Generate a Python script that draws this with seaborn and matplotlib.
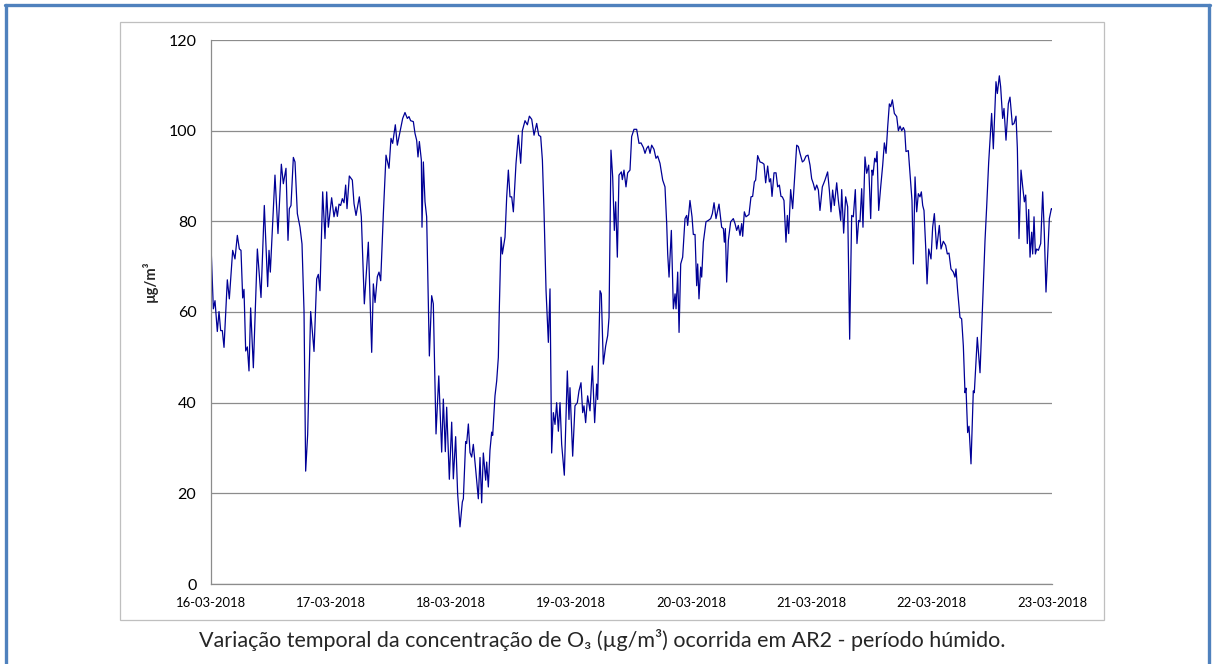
import numpy as np
import pandas as pd
import matplotlib
matplotlib.use("Agg")
import matplotlib.pyplot as plt
import seaborn as sns
from matplotlib.lines import Line2D
from matplotlib.patches import Rectangle

# ---- data (hours since 16-03-2018 00:00, O3 concentration in ug/m3) ----
hours = [
    0, 0.47, 0.8, 1.26, 1.6, 1.93, 2.26, 2.6, 3.26, 3.66, 4.33, 4.79, 5.26, 5.66, 5.99,
    6.33, 6.59, 6.93, 7.26, 7.59, 7.92, 8.46, 9.26, 9.99, 10.65, 11.32, 11.59, 11.85,
    12.78, 13.38, 14.05, 14.45, 14.98, 15.38, 15.65, 15.98, 16.45, 16.78, 17.25, 17.78,
    18.18, 18.58, 18.91, 19.31, 19.91, 20.58, 21.11, 21.44, 21.77, 22.31, 22.77, 23.11,
    23.44, 24.1, 24.57, 24.97, 25.24, 25.57, 25.9, 26.23, 26.57, 26.9, 27.17, 27.63,
    28.23, 28.57, 28.97, 29.63, 30.03, 30.63, 31.43, 32.1, 32.43, 32.77, 33.23, 33.56,
    33.9, 34.43, 34.96, 35.56, 35.96, 36.29, 36.82, 37.22, 37.76, 38.29, 38.75, 39.22,
    39.55, 39.88, 40.42, 40.75, 41.08, 41.35, 41.62, 42.02, 42.15, 42.42, 42.75, 43.08,
    43.62, 44.08, 44.41, 44.95, 45.5, 46.08, 46.41, 46.81, 47.08, 47.61, 48.08, 48.41,
    48.87, 49.27, 49.74, 50.21, 50.41, 50.87, 51.07, 51.41, 51.74, 52.07, 52.4, 52.87,
    53.4, 53.74, 54.07, 54.4, 54.87, 55.07, 55.4, 55.73, 56.07, 56.27, 56.73, 57.07,
    57.4, 57.6, 57.94, 58.2, 58.73, 59.07, 59.4, 59.73, 60.07, 60.4, 60.93, 61.4, 61.86,
    62.2, 62.73, 63.2, 63.6, 64.07, 64.53, 65.06, 65.46, 65.86, 66.2, 66.52, 66.93,
    67.39, 67.72, 68.05, 68.39, 68.72, 69.05, 69.39, 69.72, 70.05, 70.58, 71.18, 71.51,
    71.71, 72.25, 72.71, 73.18, 73.51, 73.91, 74.25, 74.51, 74.84, 75.24, 75.71, 76.18,
    76.64, 77.04, 77.24, 77.71, 77.97, 78.37, 78.84, 79.24, 79.51, 79.9, 80.24, 80.57,
    80.84, 81.17, 81.5, 81.97, 82.17, 82.5, 82.9, 83.23, 83.7, 84.03, 84.5, 85.03, 85.5,
    85.9, 86.36, 86.7, 87.03, 87.37, 87.7, 88.03, 88.49, 88.89, 89.23, 89.69, 90.23,
    90.69, 91.03, 91.23, 91.5, 91.96, 92.36, 92.7, 92.9, 93.23, 93.5, 93.83, 94.22,
    94.69, 95.02, 95.22, 95.68, 96.09, 96.35, 96.69, 97.02, 97.22, 97.48, 97.82, 98.02,
    98.35, 98.88, 99.35, 99.82, 100.15, 100.49, 100.88, 101.48, 102.01, 102.35, 102.55,
    102.75, 103.01, 103.35, 103.81, 104.34, 104.68, 105.01, 105.34, 105.68, 106.01,
    106.21, 106.54, 106.87, 107.47, 107.87, 108.2, 108.54, 108.8, 109.2, 109.67, 110.14,
    110.47, 110.8, 111.2, 111.54, 111.8, 112.07, 112.47, 112.87, 113.2, 113.54, 113.86,
    114.13, 114.46, 114.86, 115.13, 115.4, 115.79, 116.19, 116.66, 117.0, 117.33, 117.66,
    118.13, 118.46, 118.86, 119.26, 119.66, 119.99, 120.33, 120.66, 121.0, 121.33,
    121.65, 122.12, 122.65, 123.18, 123.52, 123.85, 124.18, 124.52, 124.99, 125.32,
    125.79, 125.99, 126.38, 126.78, 127.18, 127.58, 127.98, 128.31, 128.71, 129.04,
    129.38, 129.64, 129.98, 130.24, 130.64, 130.98, 131.38, 131.78, 132.05, 132.25,
    132.58, 132.85, 133.05, 133.38, 133.78, 134.18, 134.51, 134.85, 135.18, 135.51,
    135.78, 136.11, 136.51, 136.98, 137.31, 137.64, 137.98, 138.31, 138.58, 138.83,
    139.3, 139.77, 140.03, 140.3, 140.64, 140.97, 141.3, 141.63, 141.9, 142.17, 142.43,
    142.77, 143.04, 143.37, 143.83, 144.16, 144.5, 144.96, 145.49, 145.83, 146.29,
    146.76, 147.09, 147.42, 147.82, 148.29, 148.62, 148.82, 149.15, 149.62, 149.95,
    150.29, 150.62, 150.82, 151.15, 151.42, 151.82, 152.28, 152.48, 153.08, 153.62,
    154.08, 154.62, 154.95, 155.35, 155.94, 156.28, 156.81, 157.08, 157.48, 157.74,
    158.14, 158.41, 158.81, 159.28, 159.61, 160.08, 160.42, 160.81, 161.08, 161.41,
    161.81, 162.15, 162.48, 162.75, 163.07, 163.34, 163.61, 163.94, 164.14, 164.41,
    164.68, 164.94, 165.28, 165.74, 166.14, 166.47, 166.8, 167.14, 167.47, 167.87, 168.0,
]
o3 = [
    74.7, 60.7, 62.5, 55.7, 60.1, 55.9, 55.9, 52.2, 67.1, 62.9, 73.6, 71.7, 76.9, 73.9, 73.6,
    63.1, 65.0, 51.4, 52.3, 47.0, 60.9, 47.7, 73.9, 63.2, 83.5, 65.6, 73.6, 68.8,
    90.2, 77.3, 92.6, 88.3, 91.7, 75.8, 82.8, 83.5, 94.1, 93.1, 81.7, 78.7,
    75.0, 60.3, 24.9, 33.0, 60.1, 51.3, 67.3, 68.3, 64.7, 86.5, 76.2, 86.5,
    78.7, 85.2, 81.0, 83.2, 81.1, 83.8, 83.5, 85.0, 84.1, 88.0, 82.8, 90.0,
    89.1, 83.9, 81.3, 85.4, 81.0, 61.8, 75.4, 51.1, 66.2, 62.1, 67.8, 68.8,
    66.9, 81.7, 94.6, 91.7, 98.3, 97.2, 101.3, 96.8, 99.8, 102.7, 104.0, 102.7,
    103.1, 102.2, 102.0, 99.4, 97.9, 94.2, 97.6, 93.5, 78.7, 93.1, 84.3, 81.0,
    50.3, 63.6, 61.8, 33.1, 45.9, 29.1, 40.8, 29.2, 39.0, 23.1, 35.7, 23.2,
    32.5, 19.9, 12.6, 18.1, 18.8, 31.4, 31.0, 35.3, 29.0, 28.0, 30.8, 25.3,
    18.8, 27.9, 17.9, 28.9, 22.9, 26.9, 21.4, 29.5, 33.5, 32.8, 41.5, 44.8,
    50.0, 61.0, 76.5, 72.8, 76.5, 85.4, 91.3, 85.4, 85.4, 82.1, 92.8, 99.0, 92.8,
    100.0, 102.2, 101.3, 103.2, 102.5, 99.0, 101.6, 99.0, 98.7, 93.5, 82.4, 64.7,
    53.3, 65.1, 28.9, 37.8, 35.2, 40.0, 33.7, 40.0, 30.8, 24.0, 47.0, 36.3,
    43.3, 28.2, 39.3, 40.0, 42.6, 44.4, 37.8, 39.3, 35.6, 41.5, 38.2, 48.1,
    35.6, 44.1, 40.7, 64.7, 64.0, 48.5, 52.5, 54.8, 58.8, 95.7, 89.8, 78.0,
    84.3, 72.1, 90.2, 90.9, 89.2, 91.3, 87.6, 90.7, 91.3, 98.7, 100.3, 100.3, 97.2,
    97.3, 96.3, 95.0, 96.1, 96.6, 95.0, 96.8, 95.9, 93.9, 94.4, 92.8, 89.1,
    87.6, 79.5, 72.8, 67.7, 78.0, 60.7, 64.0, 60.7, 68.8, 55.5, 70.6, 72.1,
    80.6, 81.3, 79.1, 84.6, 81.0, 77.1, 77.1, 65.8, 70.6, 62.9, 69.9, 67.7,
    75.4, 79.9, 80.2, 80.6, 81.7, 84.1, 80.6, 83.8, 78.7, 78.4, 75.4,
    78.4, 66.6, 75.8, 79.9, 80.6, 79.5, 78.0, 79.1, 76.9, 79.5,
    76.7, 82.1, 81.0, 81.5, 85.4, 85.5, 88.7, 89.1, 94.5, 93.1, 92.9,
    92.6, 88.5, 92.2, 88.7, 89.4, 85.5, 90.7, 90.7, 87.6, 88.0, 85.5,
    85.4, 84.6, 75.4, 81.3, 77.3, 87.0, 82.8, 90.9, 96.8, 96.5, 95.0,
    93.1, 93.4, 94.4, 94.6, 92.4, 89.4, 88.3, 86.9, 88.0, 86.9,
    82.4, 87.6, 89.1, 90.9, 86.9, 82.1, 86.9, 83.5, 88.5, 84.6,
    80.2, 87.0, 77.4, 85.4, 83.2, 54.0, 81.3, 81.0, 87.0, 75.1,
    80.2, 79.9, 87.2, 78.7, 94.2, 90.6, 92.4, 80.6, 91.3, 90.2,
    93.9, 93.1, 95.4, 82.4, 87.6, 92.4, 97.3, 95.0, 100.9, 105.9,
    105.3, 106.8, 103.8, 103.1, 100.0, 101.0, 100.0, 100.7, 100.0, 95.4,
    95.6, 88.3, 84.6, 70.6, 89.8, 82.1, 86.1, 85.4, 86.5, 83.5, 82.4,
    74.3, 66.2, 73.9, 71.7, 78.7, 81.7, 73.9, 79.1, 73.9, 75.6,
    74.7, 72.8, 73.0, 69.5, 68.8, 67.7, 69.5, 64.7, 58.8, 58.5,
    52.5, 42.2, 43.2, 33.4, 34.8, 26.5, 42.6, 42.2, 54.4, 46.6,
    59.9, 75.8, 83.2, 93.0, 103.8, 96.0, 110.8, 108.2, 112.1, 109.7,
    102.7, 104.9, 97.9, 106.0, 107.4, 101.3, 101.6, 103.2, 96.1, 76.2,
    91.3, 87.6, 84.3, 85.8, 75.1, 82.6, 72.1, 77.6, 72.8, 81.0,
    72.8, 73.9, 73.6, 75.1, 86.5, 77.3, 64.4, 72.8, 80.6, 82.8, 82.6,
]
day_labels = ["16-03-2018", "17-03-2018", "18-03-2018", "19-03-2018",
              "20-03-2018", "21-03-2018", "22-03-2018", "23-03-2018"]
y_ticks = [0, 20, 40, 60, 80, 100, 120]
y_label = "µg/m³"
caption = "Variação temporal da concentração de O₃ (µg/m³) ocorrida em AR2 - período húmido."

start = pd.Timestamp("2018-03-16")
df = pd.DataFrame({"time": start + pd.to_timedelta(hours, unit="h"), "o3": o3})

sns.set_theme(style="white")
plt.rcParams["font.family"] = ["Lato", "DejaVu Sans"]

W, H = 1215, 664
fig = plt.figure(figsize=(W / 100, H / 100), dpi=100)
fig.patch.set_facecolor("white")

# outer blue frame and inner grey chart box
blue = "#4F81BD"
fig.add_artist(Line2D([6 / W, 6 / W], [0, 1 - 5 / H], color=blue, lw=2.4, transform=fig.transFigure))
fig.add_artist(Line2D([1209 / W, 1209 / W], [0, 1 - 5 / H], color=blue, lw=2.4, transform=fig.transFigure))
fig.add_artist(Line2D([5 / W, 1210 / W], [1 - 5 / H, 1 - 5 / H], color=blue, lw=2.4, transform=fig.transFigure))
fig.add_artist(Rectangle((120 / W, 1 - 620 / H), 984 / W, 598 / H, fill=False,
                         edgecolor="#BFBFBF", lw=0.9, transform=fig.transFigure))

ax = fig.add_axes([211 / W, 1 - 584 / H, (1052 - 211) / W, 544 / H])
sns.lineplot(data=df, x="time", y="o3", ax=ax, color="#000096", linewidth=0.9,
             estimator=None, sort=False)

tick_dates = pd.to_datetime(day_labels, format="%d-%m-%Y")
ax.set_xlim(tick_dates[0], tick_dates[-1])
ax.set_xticks(tick_dates)
ax.set_xticklabels(day_labels, fontsize=9.4)
ax.set_ylim(0, 120)
ax.set_yticks(y_ticks)
ax.set_yticklabels([str(v) for v in y_ticks], fontsize=11.5)
ax.set_xlabel("")
ax.set_ylabel("")

ax.grid(axis="y", color="#8C8C8C", lw=0.9)
ax.grid(axis="x", visible=False)
for s in ["top", "right"]:
    ax.spines[s].set_visible(False)
for s in ["left", "bottom"]:
    ax.spines[s].set_color("#8C8C8C")
    ax.spines[s].set_linewidth(0.9)
ax.tick_params(axis="both", which="major", direction="out", length=4.5, width=0.9,
               color="#8C8C8C", labelcolor="black")
ax.tick_params(axis="y", pad=6)
ax.tick_params(axis="x", pad=5)
ax.set_facecolor("white")

fig.text(150 / W, 1 - 281 / H, y_label, rotation=90, ha="center", va="center",
         fontsize=10.5, fontweight="bold")
fig.text(602 / W, 1 - 640 / H, caption, ha="center", va="center", fontsize=15.5)

fig.savefig("out.png", dpi=100)
